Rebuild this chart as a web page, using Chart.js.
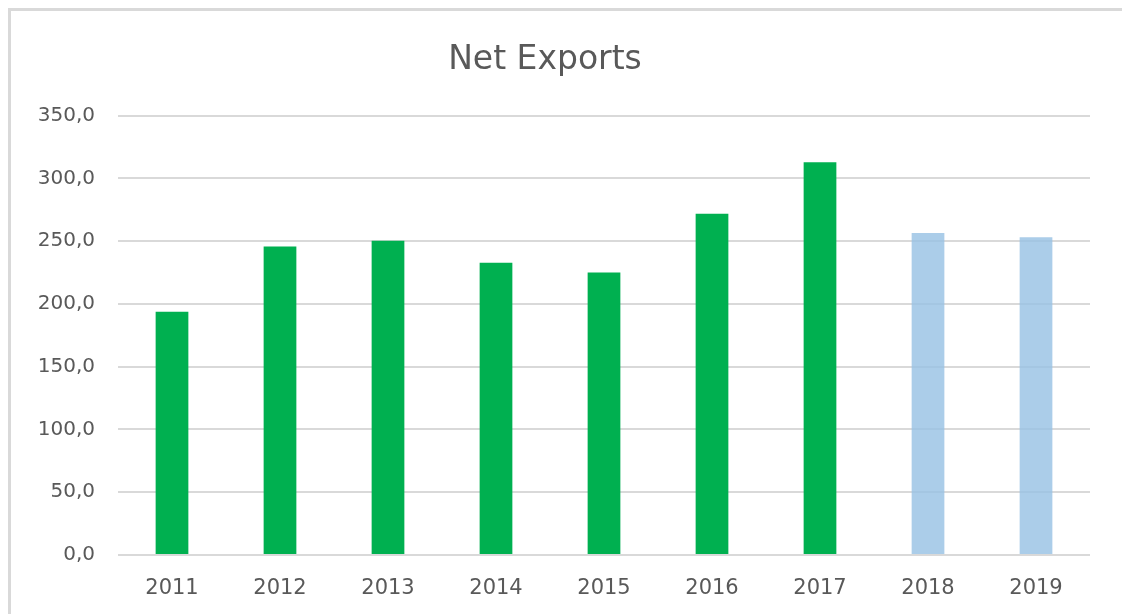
<!DOCTYPE html>
<html>
<head>
<meta charset="utf-8">
<script src="https://cdn.jsdelivr.net/npm/chart.js@4/dist/chart.umd.min.js"></script>
<style>
  html, body { margin: 0; padding: 0; background: #fff; overflow: hidden; }
  #wrap { position: relative; width: 1122px; height: 614px; overflow: hidden; }
  #frame { position: absolute; left: 8px; top: 8px; right: 0; bottom: 0;
           border-top: 3px solid #d9d9d9; border-left: 3px solid #d9d9d9; }
  canvas { position: absolute; left: 0; top: 0; }
</style>
</head>
<body>
<div id="wrap">
  <div id="frame"></div>
  <canvas id="chart" width="1122" height="614"></canvas>
</div>
<script>
// --- data ---
const years = ['2011', '2012', '2013', '2014', '2015', '2016', '2017', '2018', '2019'];
const netExports = [193.8, 245.8, 250.3, 232.8, 225.1, 271.8, 312.9, 256.4, 253.2];
const forecastYears = ['2018', '2019'];
const yTicks = [0, 50, 100, 150, 200, 250, 300, 350];

const actualColor = '#00b050';
const forecastColor = 'rgba(150,192,228,0.8)';
const textColor = '#595959';
const gridColor = '#d9d9d9';
const font = 'DejaVu Sans';

const barColors = years.map(y => forecastYears.includes(y) ? forecastColor : actualColor);

const ctx = document.getElementById('chart').getContext('2d');
new Chart(ctx, {
  type: 'bar',
  data: {
    labels: years,
    datasets: [{
      label: 'Net Exports',
      data: netExports,
      backgroundColor: barColors,
      borderWidth: 0,
      barPercentage: 0.303,
      categoryPercentage: 1
    }]
  },
  options: {
    responsive: false,
    animation: false,
    layout: { padding: { left: 0, right: 32, top: 0, bottom: 12 } },
    plugins: {
      legend: { display: false },
      tooltip: { enabled: false },
      title: {
        display: true,
        text: 'Net Exports',
        color: textColor,
        font: { family: font, size: 33, weight: 'normal', lineHeight: 1.2 },
        padding: { top: 41, bottom: 35 }
      }
    },
    scales: {
      x: {
        grid: { display: false, drawTicks: false },
        border: { display: false },
        afterFit: scale => { scale.height = 47; },
        ticks: { color: textColor, padding: 21, font: { family: font, size: 21 } }
      },
      y: {
        min: 0,
        max: yTicks[yTicks.length - 1],
        afterBuildTicks: scale => { scale.ticks = yTicks.map(v => ({ value: v })); },
        afterFit: scale => { scale.width = 118; },
        grid: { color: gridColor, lineWidth: 2, drawTicks: false },
        border: { display: false },
        ticks: {
          color: textColor,
          padding: 23,
          font: { family: font, size: 20 },
          callback: v => v.toFixed(1).replace('.', ',')
        }
      }
    }
  }
});
</script>
</body>
</html>
